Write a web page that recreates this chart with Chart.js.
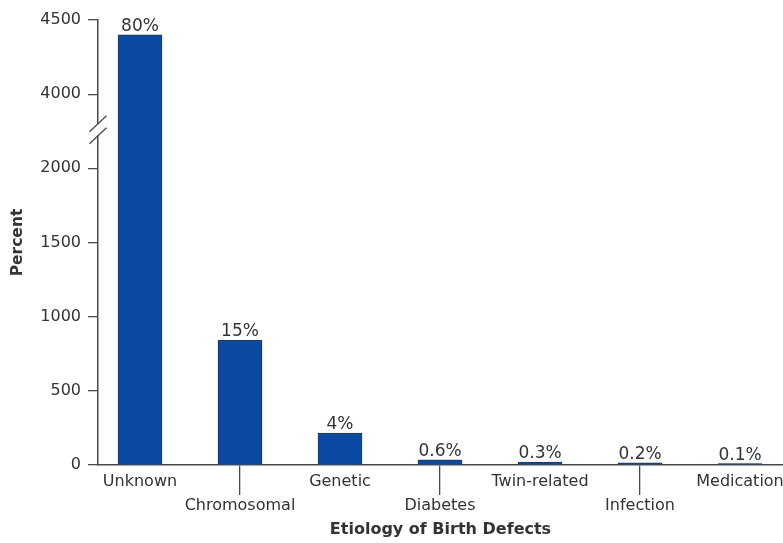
<!DOCTYPE html>
<html>
<head>
<meta charset="utf-8">
<script src="https://cdn.jsdelivr.net/npm/chart.js@4"></script>
<style>
  html, body { margin: 0; padding: 0; background: #fff; overflow: hidden; }
  #wrap { width: 783px; height: 543px; }
</style>
</head>
<body>
<div id="wrap"><canvas id="chart" width="783" height="543"></canvas></div>
<script>
// Etiology of birth defects: bar heights on a broken "Percent" axis
const categories = ['Unknown', 'Chromosomal', 'Genetic', 'Diabetes', 'Twin-related', 'Infection', 'Medication'];
const counts = [4400, 840, 215, 35, 20, 14, 9];
const percentLabels = ['80%', '15%', '4%', '0.6%', '0.3%', '0.2%', '0.1%'];
const yTickValues = [0, 500, 1000, 1500, 2000, 4000, 4500];
const axisBreak = { from: 2000, to: 3500 };

// values above the break are shifted down by the size of the omitted span
const gap = axisBreak.to - axisBreak.from;
const toAxis = v => (v <= axisBreak.from ? v : v - gap);
const fromAxis = a => (a <= axisBreak.from ? a : a + gap);

const ink = '#333';
const lineInk = '#4a4a4a';
const barBlue = '#0b4aa2';
const barEdge = '#123a78';
const fontFamily = "'DejaVu Sans', sans-serif";

const barLabels = {
  id: 'barLabels',
  afterDatasetsDraw(chart) {
    const { ctx } = chart;
    const meta = chart.getDatasetMeta(0);
    ctx.save();
    ctx.fillStyle = ink;
    ctx.font = `17px ${fontFamily}`;
    ctx.textAlign = 'center';
    ctx.textBaseline = 'alphabetic';
    meta.data.forEach((bar, i) => {
      ctx.fillText(percentLabels[i], bar.x, bar.y - 4);
    });
    ctx.restore();
  }
};

const axisBreakMarks = {
  id: 'axisBreakMarks',
  afterDraw(chart) {
    const { ctx } = chart;
    const y = chart.scales.y;
    const x0 = chart.chartArea.left;
    const yc = y.getPixelForValue((axisBreak.from + toAxis(4000)) / 2) - 1.5;
    ctx.save();
    ctx.fillStyle = '#fff';
    ctx.fillRect(x0 - 3, yc - 5.5, 6, 11);
    ctx.strokeStyle = lineInk;
    ctx.lineWidth = 1.3;
    [-6, 6].forEach(d => {
      ctx.beginPath();
      ctx.moveTo(x0 - 8.5, yc + d + 8);
      ctx.lineTo(x0 + 8.5, yc + d - 8);
      ctx.stroke();
    });
    ctx.restore();
  }
};

new Chart(document.getElementById('chart'), {
  type: 'bar',
  data: {
    datasets: [{
      data: counts.map((v, i) => ({ x: i, y: toAxis(v) })),
      backgroundColor: barBlue,
      borderColor: barEdge,
      borderWidth: 1,
      barThickness: 44
    }]
  },
  options: {
    responsive: false,
    devicePixelRatio: 1,
    animation: false,
    layout: { padding: { top: 20, right: 0, bottom: 0, left: 0 } },
    plugins: { legend: { display: false }, tooltip: { enabled: false } },
    scales: {
      x: {
        type: 'linear',
        min: -0.42,
        max: 6.43,
        offset: false,
        afterBuildTicks: s => { s.ticks = categories.map((_, i) => ({ value: i })); },
        afterFit: s => { s.height = 78; },
        grid: {
          offset: false,
          drawOnChartArea: false,
          drawTicks: true,
          tickLength: 30,
          lineWidth: 1.3,
          color: c => (c.index % 2 ? lineInk : 'rgba(0,0,0,0)')
        },
        border: { display: true, color: lineInk, width: 1.5 },
        ticks: {
          autoSkip: false,
          maxRotation: 0,
          padding: -25,
          color: ink,
          font: { family: fontFamily, size: 16, lineHeight: 1.5 },
          callback: v => (v % 2 ? ['', categories[v]] : categories[v])
        },
        title: {
          display: true,
          text: 'Etiology of Birth Defects',
          color: ink,
          font: { family: fontFamily, size: 16, weight: 'bold', lineHeight: 1.2 },
          padding: { top: 0, bottom: 4 }
        }
      },
      y: {
        min: 0,
        max: toAxis(4500),
        afterBuildTicks: s => { s.ticks = yTickValues.map(v => ({ value: toAxis(v) })); },
        afterFit: s => { s.width = 98; },
        grid: { drawOnChartArea: false, drawTicks: true, tickLength: 10, lineWidth: 1.3, color: lineInk },
        border: { display: true, color: lineInk, width: 1.5 },
        ticks: {
          padding: 7,
          color: ink,
          font: { family: fontFamily, size: 16 },
          callback: v => String(fromAxis(v))
        },
        title: {
          display: true,
          text: 'Percent',
          color: ink,
          font: { family: fontFamily, size: 15.5, weight: 'bold', lineHeight: 1.2 },
          padding: { top: 9, bottom: 0 }
        }
      }
    }
  },
  plugins: [barLabels, axisBreakMarks]
});
</script>
</body>
</html>
